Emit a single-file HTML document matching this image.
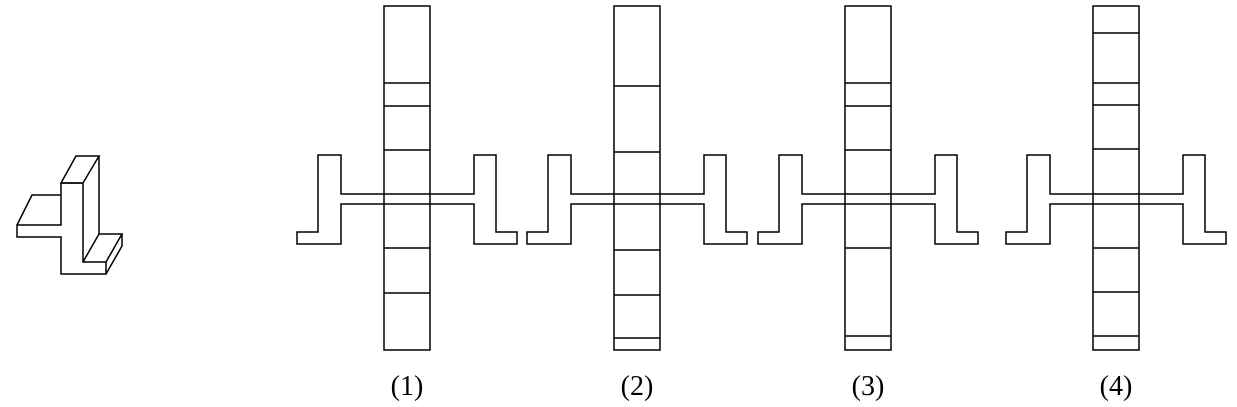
<!DOCTYPE html>
<html><head><meta charset="utf-8">
<style>
html,body{margin:0;padding:0;background:#fff;}
svg{display:block;}
text{font-family:"Liberation Serif",serif;font-size:28px;fill:#000;}
</style></head>
<body>
<svg id="s" width="1237" height="407" viewBox="0 0 1237 407">
  <g fill="none" stroke="#000" stroke-width="1.5" stroke-linejoin="miter">
    <path d="M61,183 L76,156 L99,156 L83,183 Z"/>
    <path d="M61,183 L83,183 L83,262 L106,262 L106,274 L61,274 L61,237 L17,237 L17,225 L61,225 Z"/>
    <path d="M17,225 L32,195 L61,195"/>
    <path d="M99,156 L99,234 L122,234 L106,262 M122,234 L122,246 L106,274 M99,234 L83,262"/>
  </g>
</svg>
<script>
const labels = ["(1)","(2)","(3)","(4)"];
const offsets = [0, 230, 461, 709];
const dividers = [
  [83,106,150,248,293],
  [86,152,250,295,338],
  [83,106,150,248,336],
  [33,83,105,149,248,292,336]
];
const NS="http://www.w3.org/2000/svg";
const svg=document.getElementById('s');
function mk(tag,attrs,parent){const e=document.createElementNS(NS,tag);for(const k in attrs)e.setAttribute(k,attrs[k]);parent.appendChild(e);return e;}
labels.forEach((lab,i)=>{
  const dx=offsets[i];
  const g=mk('g',{transform:`translate(${dx},0)`,fill:'none',stroke:'#000','stroke-width':1.5},svg);
  
  
  const p=mk('path',{d:"M297,232 L318,232 L318,155 L341,155 L341,194 L474,194 L474,155 L496,155 L496,232 L517,232 L517,244 L474,244 L474,204 L341,204 L341,244 L297,244 Z"},g);
  
  
  const r=mk('rect',{x:384,y:6,width:46,height:344,fill:'#fff'},g);
  
  
  const band=mk('path',{d:"M384,194 L430,194 M384,204 L430,204"},g);
  
  
  dividers[i].forEach(y=>{
    const l=mk('line',{x1:384,x2:430,y1:y,y2:y},g);
    
    
  });
  const t=mk('text',{x:407,y:395,'text-anchor':'middle',stroke:'none'},g);
  t.textContent=lab;
  
  
});
</script>
</body></html>
